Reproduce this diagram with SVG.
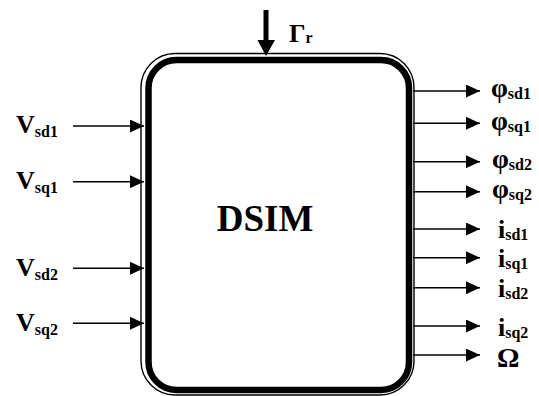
<svg xmlns="http://www.w3.org/2000/svg" width="539" height="396" viewBox="0 0 539 396">
<style>
.t{font-family:"Liberation Serif","Times New Roman",serif;font-weight:bold;fill:#000}
.big{font-size:26px}
.phi{font-size:27px}
.sub{font-size:16px}
.ln{stroke:#000;stroke-width:1.5;fill:none}
</style>
<defs>
<marker id="ah" viewBox="0 0 14 13" refX="14" refY="6.5" markerWidth="14" markerHeight="13" markerUnits="userSpaceOnUse" orient="auto">
<path d="M0,0 L14,6.5 L0,13 Z" fill="#000"/>
</marker>
</defs>
<rect width="539" height="396" fill="#fff"/>
<g id="dsim">
<rect x="141" y="53.5" width="273" height="341.5" rx="34" ry="34" fill="none" stroke="#000" stroke-width="1.4"/>
<rect x="148.5" y="60" width="260.5" height="330" rx="28" ry="28" fill="#fff" stroke="#000" stroke-width="6.5"/>
<text class="t" x="265" y="231" font-size="37" text-anchor="middle">DSIM</text>
</g>
<g id="connectors">
<line x1="266" y1="10" x2="266" y2="42" stroke="#000" stroke-width="5"/>
<polygon points="257.5,40 275,40 266,56" fill="#000"/>
<line class="ln" x1="73" y1="126" x2="144" y2="126" marker-end="url(#ah)"/>
<line class="ln" x1="73" y1="181.7" x2="144" y2="181.7" marker-end="url(#ah)"/>
<line class="ln" x1="73" y1="268.3" x2="144" y2="268.3" marker-end="url(#ah)"/>
<line class="ln" x1="73" y1="323.3" x2="144" y2="323.3" marker-end="url(#ah)"/>
<line class="ln" x1="413" y1="91" x2="480" y2="91" marker-end="url(#ah)"/>
<line class="ln" x1="413" y1="123.3" x2="480" y2="123.3" marker-end="url(#ah)"/>
<line class="ln" x1="413" y1="161.7" x2="480" y2="161.7" marker-end="url(#ah)"/>
<line class="ln" x1="413" y1="191.7" x2="480" y2="191.7" marker-end="url(#ah)"/>
<line class="ln" x1="413" y1="229" x2="480" y2="229" marker-end="url(#ah)"/>
<line class="ln" x1="413" y1="257.7" x2="480" y2="257.7" marker-end="url(#ah)"/>
<line class="ln" x1="413" y1="287.7" x2="480" y2="287.7" marker-end="url(#ah)"/>
<line class="ln" x1="413" y1="326" x2="480" y2="326" marker-end="url(#ah)"/>
<line class="ln" x1="413" y1="355" x2="480" y2="355" marker-end="url(#ah)"/>
</g>
<g id="labels">
<text class="t big" x="289" y="42">Γ<tspan class="sub" dy="1">r</tspan></text>
<text class="t big" x="16" y="133.3">V<tspan class="sub" dy="4">sd1</tspan></text>
<text class="t big" x="16" y="189">V<tspan class="sub" dy="4">sq1</tspan></text>
<text class="t big" x="16" y="275.5">V<tspan class="sub" dy="4">sd2</tspan></text>
<text class="t big" x="16" y="330.5">V<tspan class="sub" dy="4">sq2</tspan></text>
<text class="t phi" x="491" y="97">φ<tspan class="sub" dy="2">sd1</tspan></text>
<text class="t phi" x="491" y="129.5">φ<tspan class="sub" dy="2">sq1</tspan></text>
<text class="t phi" x="492" y="168">φ<tspan class="sub" dy="2">sd2</tspan></text>
<text class="t phi" x="492" y="198">φ<tspan class="sub" dy="2">sq2</tspan></text>
<text class="t big" x="498" y="238.3">i<tspan class="sub" dy="2">sd1</tspan></text>
<text class="t big" x="498" y="267">i<tspan class="sub" dy="2">sq1</tspan></text>
<text class="t big" x="498" y="297">i<tspan class="sub" dy="2">sd2</tspan></text>
<text class="t big" x="498" y="335.5">i<tspan class="sub" dy="2">sq2</tspan></text>
<text class="t" x="497" y="366.7" font-size="28">Ω</text>
</g>
</svg>
